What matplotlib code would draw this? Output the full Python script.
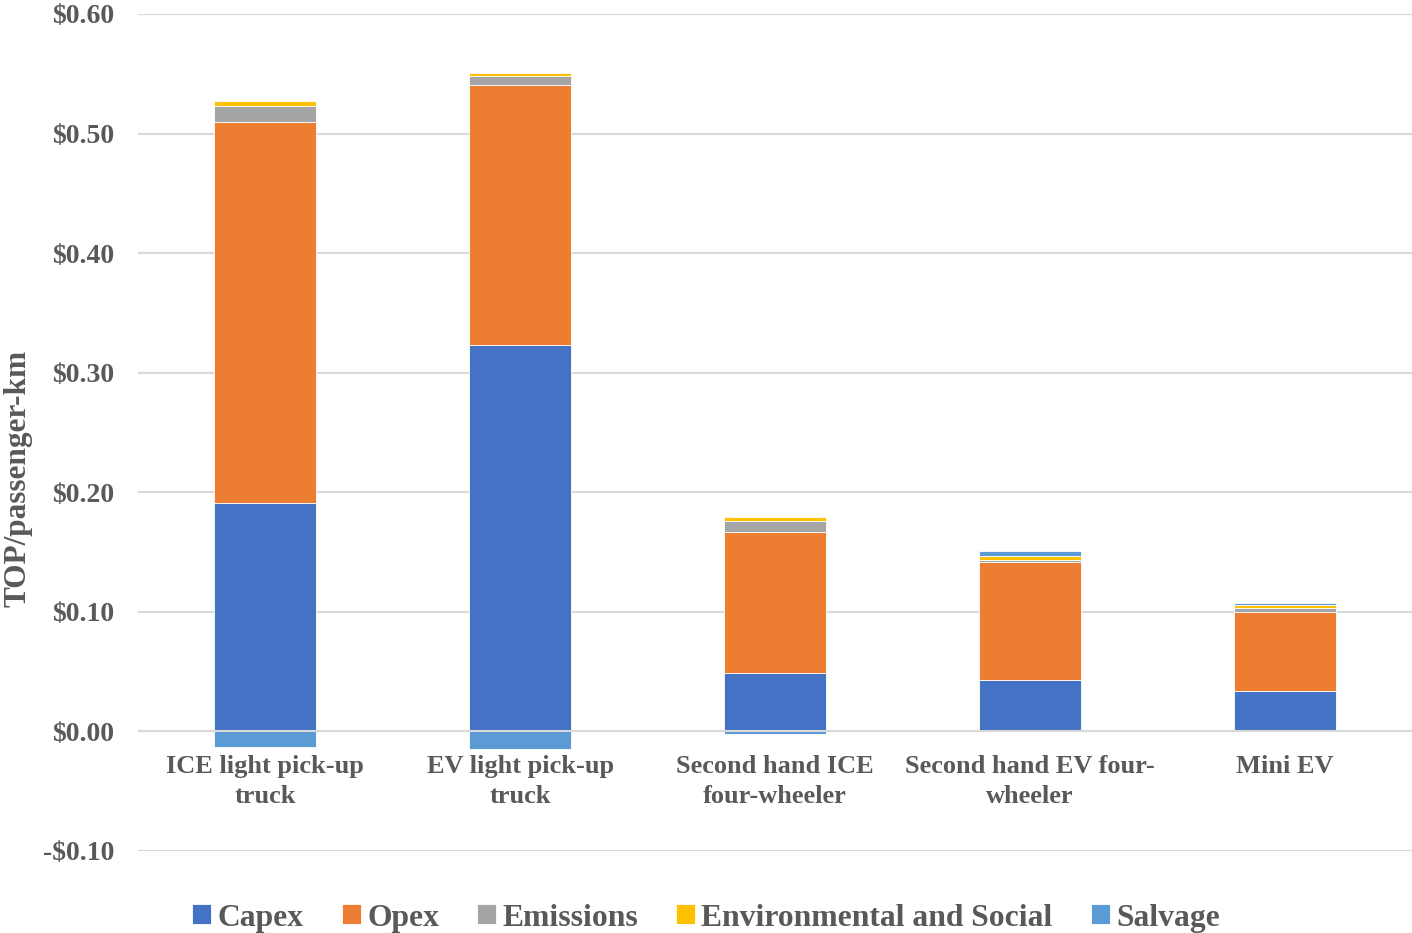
import numpy as np
import matplotlib.pyplot as plt
from matplotlib.ticker import FuncFormatter

plt.rcParams['font.family'] = ['Liberation Serif', 'DejaVu Serif']
plt.rcParams['font.weight'] = 'bold'

categories = ["ICE light pick-up\ntruck", "EV light pick-up\ntruck",
              "Second hand ICE\nfour-wheeler", "Second hand EV four-\nwheeler", "Mini EV"]
series = ["Capex", "Opex", "Emissions", "Environmental and Social", "Salvage"]
capex = [0.191, 0.323, 0.049, 0.043, 0.034]
opex = [0.319, 0.218, 0.118, 0.099, 0.066]
emissions = [0.0134, 0.0075, 0.0092, 0.0017, 0.003]
env_social = [0.004, 0.0025, 0.0033, 0.0028, 0.0025]
salvage = [-0.0128, -0.0145, -0.0025, 0.004, 0.002]
colors = ["#4472C4", "#ED7D31", "#A5A5A5", "#FFC000", "#5B9BD5"]

grey = "#595959"
fig = plt.figure(figsize=(14.12, 9.33), dpi=100)
ax = fig.add_axes([0.0977, 0.088, 0.9023, 0.897])

x = np.arange(len(categories))
pos_bottom = np.zeros(len(categories))
neg_bottom = np.zeros(len(categories))
for name, vals, c in zip(series, [capex, opex, emissions, env_social, salvage], colors):
    vals = np.array(vals)
    bottom = np.where(vals >= 0, pos_bottom, neg_bottom)
    ax.bar(x, vals, width=0.4, bottom=bottom, color=c, label=name,
           edgecolor="white", linewidth=0.6, zorder=3)
    pos_bottom += np.where(vals >= 0, vals, 0)
    neg_bottom += np.where(vals < 0, vals, 0)

ax.set_xlim(-0.5, len(categories) - 0.5)
ax.set_ylim(-0.1, 0.6)
ax.set_yticks(np.arange(-0.1, 0.61, 0.1))
ax.yaxis.set_major_formatter(FuncFormatter(lambda v, p: f"-${abs(v):.2f}" if v < -1e-9 else f"${v:.2f}"))
ax.grid(axis='y', color="#d9d9d9", linewidth=1.5, zorder=0)
ax.axhline(0, color="#d9d9d9", linewidth=1.5, zorder=4)
for s in ax.spines.values():
    s.set_visible(False)
ax.tick_params(axis='both', length=0, colors=grey, labelsize=20)
ax.tick_params(axis='y', pad=17)
ax.set_xticks(x)
ax.set_xticklabels(categories, fontsize=19, color=grey, linespacing=1.38)
ax.tick_params(axis='x', pad=-69)
ax.set_ylabel("TOP/passenger-km", fontsize=22.5, fontweight='bold', color=grey)
ax.yaxis.set_label_coords(-0.083, 0.4456)

fig.legend(loc='center', bbox_to_anchor=(0.5, 0.016), ncol=5, frameon=False,
           fontsize=22.8, handlelength=0.6, handleheight=0.6, handletextpad=0.2,
           columnspacing=1.2, labelcolor=grey)

plt.savefig("out.png", dpi=100)
